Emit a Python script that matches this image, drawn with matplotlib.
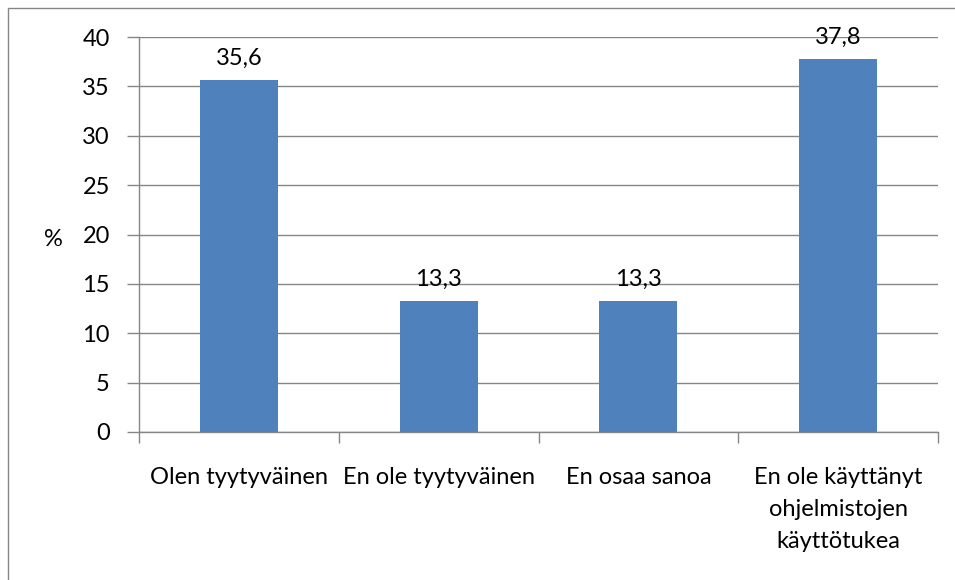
import numpy as np
import matplotlib.pyplot as plt
from matplotlib.patches import Rectangle

# data
categories = ['Olen tyytyväinen', 'En ole tyytyväinen', 'En osaa sanoa',
              'En ole käyttänyt\nohjelmistojen\nkäyttötukea']
values = [35.6, 13.3, 13.3, 37.8]
value_labels = ['35,6', '13,3', '13,3', '37,8']
yticks = [0, 5, 10, 15, 20, 25, 30, 35, 40]

plt.rcParams['font.family'] = ['Lato', 'DejaVu Sans']
grey = '#868686'
bar_color = '#4F81BD'
fs = 17

fig = plt.figure(figsize=(9.55, 5.8), dpi=100)
ax = fig.add_axes([139/955, 1-432/580, (938-139)/955, (432-37)/580])

x = np.arange(len(categories))
ax.bar(x, values, width=0.39, color=bar_color, zorder=3)
for xi, v, lab in zip(x, values, value_labels):
    ax.annotate(lab, (xi, v), xytext=(0, 8), textcoords='offset points',
                ha='center', va='bottom', fontsize=fs, color='black', zorder=4)

ax.set_xlim(-0.5, len(categories)-0.5)
ax.set_ylim(0, 40)
ax.set_yticks(yticks)
ax.set_yticklabels([str(t) for t in yticks], fontsize=fs)
ax.yaxis.grid(True, color=grey, linewidth=1, zorder=0)
ax.set_axisbelow(True)

# category labels centred, ticks on the boundaries
ax.set_xticks(x)
ax.set_xticklabels(categories, fontsize=fs, linespacing=1.65, va='top')
ax.tick_params(axis='x', length=0, pad=25)
ax.set_xticks(np.arange(len(categories)+1) - 0.5, minor=True)
ax.tick_params(axis='x', which='minor', length=8, color=grey, width=1)
ax.tick_params(axis='y', length=9, color=grey, width=1, pad=12)

for s in ['top', 'right']:
    ax.spines[s].set_visible(False)
for s in ['left', 'bottom']:
    ax.spines[s].set_color(grey)
    ax.spines[s].set_linewidth(1)

fig.text(53/955, 1-240/580, '%', fontsize=fs, ha='center', va='center')

# chart border
fig.patches.append(Rectangle((8/955, -0.5), 2, 1.5 - 8/580, transform=fig.transFigure,
                             fill=False, edgecolor=grey, linewidth=1))

fig.savefig('out.png', dpi=100)
